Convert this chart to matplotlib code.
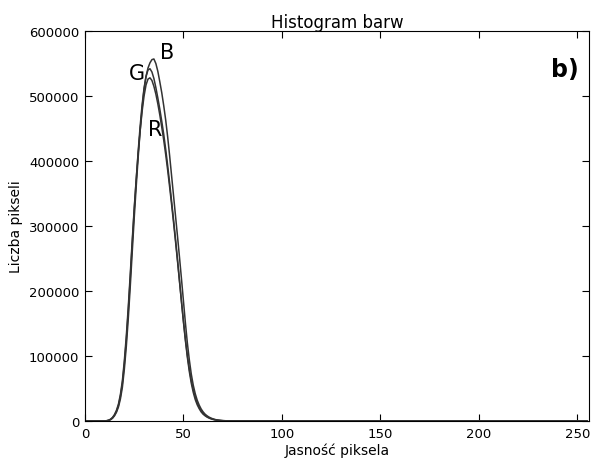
import matplotlib
matplotlib.use('Agg')
import matplotlib.pyplot as plt

# jasność piksela (tylko przedział, w którym histogram jest niezerowy + końce)
bins = [0, 10, 11, 12, 13, 14, 15, 16, 17, 18, 19, 20, 21, 22, 23, 24, 25, 26, 27, 28, 29,
        30, 31, 32, 33, 34, 35, 36, 37, 38, 39, 40, 41, 42, 43, 44, 45, 46, 47, 48, 49,
        50, 51, 52, 53, 54, 55, 56, 57, 58, 59, 60, 61, 62, 63, 64, 65, 66, 67, 68, 69,
        70, 72, 75, 80, 255]

hist_r = [0, 0, 500, 1200, 2800, 5500, 10000, 16500, 26000, 41000, 62000, 93000, 131000,
          176000, 226000, 278000, 327000, 371000, 411000, 446000, 476000,
          500000, 517000, 526000, 528000, 524000, 515000, 503000, 488000, 471000, 452000,
          432000, 410000, 386000, 360000, 333000, 305000, 276000, 246000, 215000, 184000,
          154000, 126000, 101000, 80000, 62000, 48000, 37000, 28000, 21000, 16000,
          12000, 9000, 6800, 5100, 3800, 2800, 2000, 1400, 1000, 700,
          500, 250, 80, 0, 0]

hist_g = [0, 0, 400, 1000, 2500, 5000, 9000, 15000, 24000, 38000, 58000, 88000, 125000,
          170000, 220000, 273000, 324000, 370000, 414000, 453000, 486000,
          512000, 530000, 540000, 542000, 537000, 527000, 513000, 497000, 480000, 461000,
          441000, 418000, 393000, 366000, 338000, 309000, 279000, 248000, 216000, 184000,
          153000, 124000, 98000, 76000, 58000, 44000, 33000, 25000, 19000, 14000,
          10500, 8000, 6000, 4500, 3300, 2400, 1700, 1200, 850, 600,
          400, 200, 60, 0, 0]

hist_b = [0, 0, 300, 800, 2000, 4200, 8000, 13500, 21500, 34000, 52000, 80000, 115000,
          158000, 207000, 260000, 312000, 360000, 405000, 446000, 481000,
          510000, 530000, 543000, 551000, 556000, 557000, 550000, 538000, 522000, 505000,
          485000, 463000, 437000, 408000, 377000, 346000, 315000, 284000, 252000, 219000,
          185000, 151000, 120000, 94000, 72000, 55000, 42000, 32000, 24500, 18500,
          14000, 10500, 8000, 6000, 4500, 3300, 2400, 1700, 1200, 850,
          600, 300, 100, 0, 0]

x_ticks = [0, 50, 100, 150, 200, 250]
y_ticks = [0, 100000, 200000, 300000, 400000, 500000, 600000]

fig = plt.figure(figsize=(5.93, 4.60), dpi=100)
ax = fig.add_axes([0.1433, 0.0826, 0.85, 0.8478])

line_col = '#333333'
ax.plot(bins, hist_r, color=line_col, linewidth=1.1)
ax.plot(bins, hist_g, color=line_col, linewidth=1.1)
ax.plot(bins, hist_b, color=line_col, linewidth=1.1)

# etykiety kanałów
ax.text(41.7, 567000, 'B', fontsize=15, ha='center', va='center')
ax.text(26.4, 536000, 'G', fontsize=15, ha='center', va='center')
ax.text(35.6, 449000, 'R', fontsize=15, ha='center', va='center')
ax.text(243.5, 542000, 'b)', fontsize=17, fontweight='bold', ha='center', va='center')

ax.set_xlim(0, 256)
ax.set_ylim(0, 600000)
ax.set_xticks(x_ticks)
ax.set_yticks(y_ticks)
ax.ticklabel_format(style='plain', axis='y')
ax.tick_params(direction='in', top=True, right=True, labelsize=9.5, length=5, pad=4)

ax.set_title('Histogram barw', fontsize=12, pad=3)
ax.set_xlabel('Jasność piksela', fontsize=10, labelpad=2)
ax.set_ylabel('Liczba pikseli', fontsize=10, labelpad=4)

plt.savefig('out.png', dpi=100)
